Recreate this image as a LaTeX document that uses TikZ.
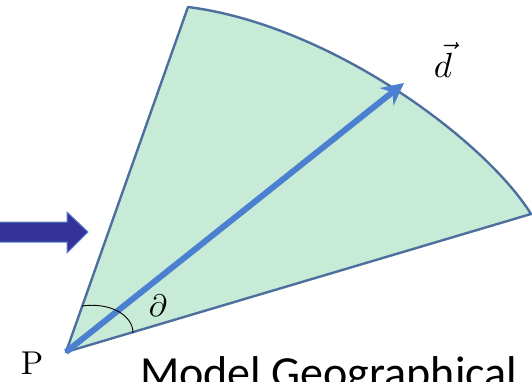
\documentclass[tikz,border=0pt]{standalone}
\usepackage{amsmath}
\usepackage{fontspec}
\usepackage{tikz}
\usetikzlibrary{arrows.meta}
\usepackage{xcolor}
\newfontfamily\labelfont{Carlito}
\definecolor{FanGreen}{HTML}{C8EBD8}
\definecolor{FanEdge}{HTML}{4D6F9E}
\definecolor{DirBlue}{HTML}{4B7FCF}
\definecolor{BlockBlue}{HTML}{333399}
\definecolor{BlockEdge}{HTML}{5B80C8}

\begin{document}
\begin{tikzpicture}[
    x=1pt, y=-1pt,
    every node/.style={
        inner sep=0pt
    },
    fan/.style={
        fill=FanGreen,
        draw=FanEdge,
        line width=2.4pt,
        line join=round
    },
    dir/.style={
        draw=DirBlue,
        line width=6pt,
        -{Stealth[length=22pt,width=22pt]}
    }
]
\useasboundingbox (0,0) rectangle (532,382);

\coordinate (p) at (66,352);
\coordinate (top) at (188,7);
\coordinate (corner) at (531,214);
\coordinate (tip) at (404,83);

% sector
\draw[fan] (p) -- (top) .. controls (330,25) and (485,140) .. (corner) -- cycle;

% direction vector
\draw[dir] (p) -- (tip);

% angle mark
\coordinate (a1) at (82,306);
\coordinate (a2) at (133,333);
\draw[black, line width=0.9pt] (a1) .. controls (110,302) and (133,315) .. (a2);

% block arrow
\filldraw[fill=BlockBlue, draw=BlockEdge, line width=1pt]
    (-2,222) -- (67,222) -- (67,212) -- (88,232) -- (67,253) -- (67,242) -- (-2,242) -- cycle;

\node[scale=3.5] (d) at (443,60) {$\vec{d}$};
\node[scale=3.1] (angle) at (158,306) {$\partial$};
\node[scale=3.3] (plabel) at (32,363) {P};
\node[anchor=base west] (caption) at (140,388) {\labelfont\fontsize{46}{50}\selectfont Model Geographical};

\end{tikzpicture}
\end{document}
